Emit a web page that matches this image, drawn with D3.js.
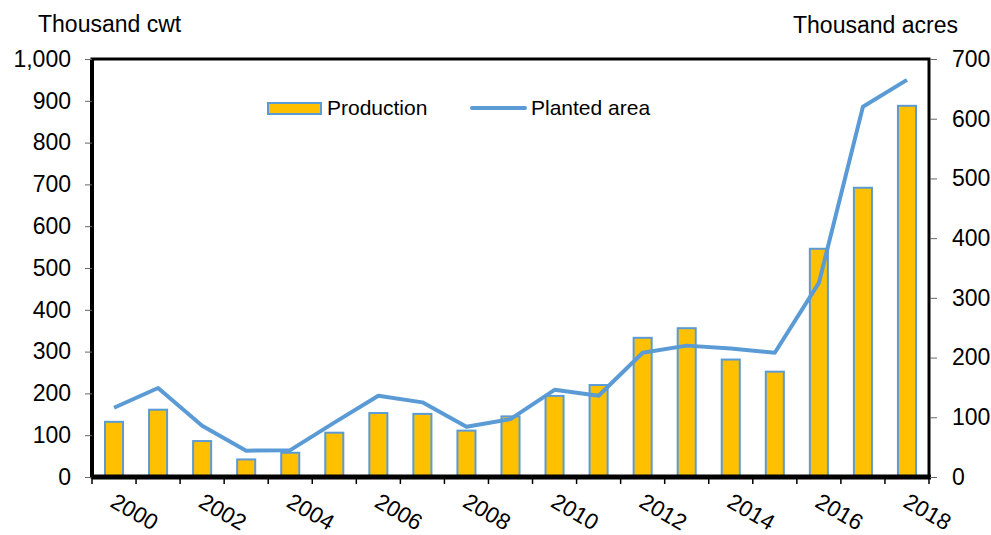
<!DOCTYPE html>
<html><head><meta charset="utf-8">
<script src="https://cdn.jsdelivr.net/npm/d3@7"></script>
<style>body{margin:0;background:#fff}svg{display:block;font-family:"Liberation Sans",Arial,sans-serif}</style>
</head><body><svg id="c" width="991" height="535"></svg>
<script>
const years = [2000,2001,2002,2003,2004,2005,2006,2007,2008,2009,2010,2011,2012,2013,2014,2015,2016,2017,2018];
const production = [132,161,86,42,58,106,153,151,111,145,194,220,333,356,281,252,546,692,888];
const plantedArea = [116,149,86,44,45,91,136,125,84,97,146,136,208,220,215,208,325,620,665];
const leftTicks = [0,100,200,300,400,500,600,700,800,900,1000];
const rightTicks = [0,100,200,300,400,500,600,700];
const xLabelYears = [2000,2002,2004,2006,2008,2010,2012,2014,2016,2018];

const svg = d3.select("#c");
const L = 92, R = 929, T = 59, B = 477;
const x = d3.scaleBand().domain(years).range([L, R]).paddingInner(0.59).paddingOuter(0.295);
const xc = d => x(d) + x.bandwidth()/2;
const yL = d3.scaleLinear().domain([0,1000]).range([B, T]);
const yR = d3.scaleLinear().domain([0,700]).range([B, T]);
const blue = "#5B9BD5", gold = "#FFC000";

// bars
svg.append("g").selectAll("rect").data(years).join("rect")
  .attr("x", d => x(d)).attr("width", x.bandwidth())
  .attr("y", (d,i) => yL(production[i])).attr("height", (d,i) => B - yL(production[i]))
  .attr("fill", gold).attr("stroke", blue).attr("stroke-width", 2);

// line
svg.append("path").datum(plantedArea)
  .attr("d", d3.line().x((d,i) => xc(years[i])).y(d => yR(d)))
  .attr("fill","none").attr("stroke", blue).attr("stroke-width", 4).attr("stroke-linejoin","round");

// frame
svg.append("rect").attr("x", L).attr("y", T).attr("width", R-L).attr("height", B-T)
  .attr("fill","none").attr("stroke","#000").attr("stroke-width",3);
svg.append("line").attr("x1",L).attr("x2",R+2).attr("y1",B).attr("y2",B).attr("stroke","#000").attr("stroke-width",5);
svg.append("line").attr("x1",L).attr("x2",L).attr("y1",T).attr("y2",B).attr("stroke","#000").attr("stroke-width",4);

// left axis
const gl = svg.append("g").attr("transform",`translate(${L},0)`)
  .call(d3.axisLeft(yL).tickValues(leftTicks).tickSize(7).tickPadding(14).tickFormat(d3.format(",")));
gl.select(".domain").remove();
gl.selectAll(".tick line").attr("stroke","#666");
gl.selectAll("text").attr("font-size",23).attr("fill","#000").attr("font-family",null);

// right axis
const gr = svg.append("g").attr("transform",`translate(${R+1},0)`)
  .call(d3.axisRight(yR).tickValues(rightTicks).tickSize(7).tickPadding(15));
gr.select(".domain").remove();
gr.selectAll(".tick line").attr("stroke","#666");
gr.selectAll("text").attr("font-size",23).attr("fill","#000").attr("font-family",null);

// bottom ticks at band boundaries
const bounds = years.map(d => x(d) - x.step()*x.paddingInner()/2).concat([R]);
svg.append("g").selectAll("line").data(bounds).join("line")
  .attr("x1", d => d).attr("x2", d => d).attr("y1", B).attr("y2", B+7)
  .attr("stroke","#000").attr("stroke-width",1.5);

// x labels
svg.append("g").selectAll("text").data(xLabelYears).join("text")
  .attr("transform", d => `translate(${xc(d)-5},${506}) rotate(30)`)
  .attr("font-size",22.5).attr("fill","#000").text(d => d);

// axis titles
svg.append("text").attr("x",38).attr("y",32).attr("font-size",23).text("Thousand cwt");
svg.append("text").attr("x",793).attr("y",33).attr("font-size",23).text("Thousand acres");

// legend
const lg = svg.append("g");
lg.append("rect").attr("x",268).attr("y",103).attr("width",53).attr("height",11)
  .attr("fill",gold).attr("stroke",blue).attr("stroke-width",2);
lg.append("text").attr("x",327).attr("y",115).attr("font-size",21).text("Production");
lg.append("line").attr("x1",472).attr("x2",525).attr("y1",108).attr("y2",108)
  .attr("stroke",blue).attr("stroke-width",4).attr("stroke-linecap","round");
lg.append("text").attr("x",531).attr("y",115).attr("font-size",21).text("Planted area");
</script></body></html>
